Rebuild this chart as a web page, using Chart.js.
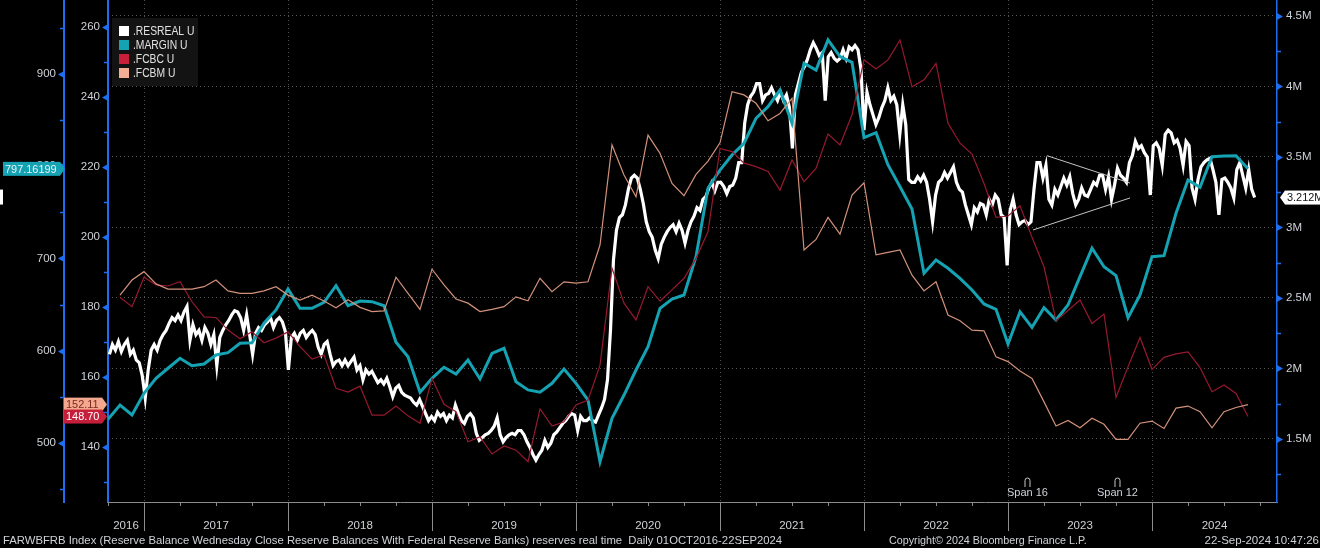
<!DOCTYPE html>
<html>
<head>
<meta charset="utf-8">
<script src="https://cdn.jsdelivr.net/npm/chart.js@4.4.1/dist/chart.umd.min.js"></script>
<style>
  html, body { margin: 0; padding: 0; background: #000; }
  #wrap { width: 1320px; height: 548px; }
</style>
</head>
<body>
<div id="wrap"><canvas id="grafico" width="1320" height="548"></canvas></div>
<script>
// rango del eje x en años decimales (01OCT2016 - 22SEP2024 + margen)
const inicioEje = 2016.75;
const finEje = 2024.868;
const etiquetasAnios = ['2016', '2017', '2018', '2019', '2020', '2021', '2022', '2023', '2024'];

// series mensuales, oct 2016 - sep 2024
const margin = [
  525.7, 541.2, 530.4, 553.9, 570.1, 581.0, 591.8, 583.8, 585.6, 595.4, 597.9, 608.1,
  608.7, 629.8, 644.2, 666.9, 646.0, 646.0, 652.5, 670.5, 649.0, 653.9, 653.2, 648.8,
  609.2, 593.5, 555.0, 570.1, 582.1, 574.8, 590.0, 569.4, 597.2, 602.7, 566.4, 557.5,
  555.0, 564.7, 580.2, 564.7, 546.6, 479.7, 526.8, 552.0, 579.1, 604.4, 646.0, 656.1,
  660.4, 702.0, 776.1, 795.9, 812.2, 824.9, 852.0, 864.6, 882.7, 846.6, 911.6, 904.3,
  936.9, 918.8, 912.7, 831.0, 836.4, 801.4, 777.8, 753.7, 684.0, 698.4, 689.4, 678.5,
  665.9, 650.7, 644.9, 607.3, 642.3, 625.4, 646.7, 633.3, 649.6, 680.3, 711.1, 691.1,
  681.4, 635.8, 660.4, 702.0, 703.1, 749.0, 785.1, 777.2, 810.4, 811.0, 811.4, 797.16199
];
const fcbc = [
  null, 182.7, 180.1, 188.5, 186.3, 186.0, 187.2, 181.5, 177.2, 177.0, 173.4, 170.9,
  172.9, 169.8, 171.1, 172.9, 168.7, 165.1, 166.3, 156.8, 155.7, 157.4, 149.1, 149.1,
  151.7, 148.9, 146.8, 159.6, 152.2, 150.1, 141.5, 142.9, 138.0, 140.3, 139.1, 135.8,
  150.9, 146.0, 147.2, 152.0, 153.4, 163.4, 191.1, 181.1, 176.3, 185.8, 181.7, 184.9,
  188.2, 193.9, 201.5, 225.3, 224.4, 221.1, 220.1, 218.7, 213.4, 222.0, 215.8, 219.6,
  229.4, 226.3, 234.9, 250.6, 248.0, 250.6, 256.3, 242.9, 244.9, 249.6, 232.5, 226.8,
  223.7, 215.3, 205.6, 206.0, 208.9, 199.9, 191.5, 176.1, 179.0, 182.0, 175.3, 178.0,
  154.2, 162.9, 171.3, 162.2, 165.6, 166.6, 167.2, 162.7, 155.8, 157.7, 155.3, 148.70
];
const fcbm = [
  null, 183.4, 187.7, 190.1, 186.6, 185.1, 185.1, 185.1, 185.8, 187.7, 184.6, 183.9,
  183.9, 184.6, 185.8, 183.4, 182.0, 183.4, 181.7, 179.8, 182.1, 179.9, 178.7, 178.9,
  188.5, 183.9, 179.3, 190.8, 186.3, 182.3, 181.1, 178.7, 179.3, 180.1, 182.9, 181.8,
  188.2, 184.4, 187.2, 186.8, 187.2, 197.7, 226.3, 217.7, 211.5, 229.1, 223.9, 215.3,
  211.8, 217.9, 221.7, 226.9, 241.5, 240.6, 238.2, 233.2, 235.3, 239.6, 196.3, 199.3,
  205.6, 200.8, 212.0, 215.5, 194.9, 195.6, 196.3, 189.1, 184.6, 187.2, 177.7, 176.1,
  173.4, 173.2, 165.8, 164.4, 161.7, 159.6, 152.9, 146.0, 147.6, 145.5, 148.2, 146.5,
  142.2, 142.2, 146.8, 147.4, 145.3, 151.1, 151.7, 150.1, 145.5, 150.1, 151.3, 152.11
];

// reservas semanales (millones), 05OCT2016 - 18SEP2024
const inicioResreal = 2016.76;
const finResreal = 2024.713;
const resreal = [
  2.10, 2.17, 2.13, 2.19, 2.12, 2.17, 2.20, 2.10, 2.13, 2.06,
  2.04, 1.95, 1.79, 1.99, 2.13, 2.17, 2.13, 2.20, 2.24, 2.27,
  2.32, 2.36, 2.34, 2.38, 2.34, 2.40, 2.44, 2.20, 2.31, 2.24,
  2.27, 2.20, 2.29, 2.25, 2.17, 2.24, 2.02, 2.22, 2.27, 2.31,
  2.34, 2.38, 2.41, 2.40, 2.36, 2.27, 2.38, 2.24, 2.10, 2.25,
  2.29, 2.27, 2.31, 2.33, 2.36, 2.29, 2.34, 2.36, 2.33, 2.26,
  1.99, 2.22, 2.25, 2.20, 2.25, 2.27, 2.22, 2.25, 2.27, 2.24,
  2.15, 2.10, 2.17, 2.19, 2.10, 2.02, 2.05, 2.06, 2.02, 2.06,
  2.02, 2.05, 2.08, 1.99, 2.02, 1.92, 1.99, 1.96, 1.98, 1.94,
  1.90, 1.92, 1.89, 1.93, 1.87, 1.80, 1.86, 1.88, 1.83, 1.81,
  1.80, 1.79, 1.76, 1.74, 1.78, 1.73, 1.68, 1.63, 1.66, 1.63,
  1.69, 1.66, 1.68, 1.63, 1.67, 1.65, 1.74, 1.68, 1.63, 1.61,
  1.66, 1.68, 1.65, 1.54, 1.49, 1.51, 1.53, 1.54, 1.56, 1.59,
  1.65, 1.53, 1.48, 1.51, 1.53, 1.54, 1.53, 1.56, 1.56, 1.53,
  1.48, 1.44, 1.39, 1.35, 1.39, 1.42, 1.49, 1.44, 1.47, 1.53,
  1.55, 1.58, 1.61, 1.63, 1.66, 1.68, 1.67, 1.56, 1.66, 1.63,
  1.63, 1.65, 1.63, 1.62, 1.67, 1.72, 1.78, 1.92, 2.27, 2.77,
  2.98, 3.07, 3.09, 3.16, 3.27, 3.35, 3.37, 3.35, 3.27, 3.17,
  3.04, 2.97, 2.93, 2.84, 2.78, 2.88, 2.93, 2.97, 3.00, 3.02,
  2.97, 3.03, 2.98, 2.89, 2.98, 3.04, 3.08, 3.14, 3.12, 3.20,
  3.22, 3.28, 3.32, 3.26, 3.32, 3.32, 3.29, 3.24, 3.29, 3.30,
  3.35, 3.46, 3.46, 3.74, 3.87, 3.93, 3.96, 4.02, 4.02, 3.90,
  3.94, 3.95, 3.99, 3.94, 3.90, 3.96, 3.90, 3.94, 3.85, 3.56,
  3.94, 4.02, 4.10, 4.14, 4.19, 4.26, 4.31, 4.27, 4.22, 4.24,
  3.90, 4.21, 4.24, 4.20, 4.18, 4.20, 4.26, 4.20, 4.28, 4.26,
  4.29, 4.26, 4.12, 3.69, 3.96, 3.87, 3.80, 3.73, 3.78, 3.85,
  3.90, 3.99, 3.90, 3.93, 3.87, 3.66, 3.87, 3.73, 3.34, 3.32,
  3.32, 3.36, 3.33, 3.37, 3.32, 3.20, 3.04, 3.23, 3.32, 3.34,
  3.39, 3.35, 3.39, 3.43, 3.32, 3.27, 3.25, 3.16, 3.09, 3.02,
  3.14, 3.11, 3.17, 3.16, 3.09, 3.20, 3.16, 3.23, 3.20, 3.09,
  3.07, 2.73, 3.12, 3.20, 3.09, 3.02, 3.04, 3.05, 3.02, 3.04,
  3.27, 3.46, 3.46, 3.35, 3.44, 3.20, 3.16, 3.27, 3.23, 3.29,
  3.35, 3.30, 3.36, 3.24, 3.16, 3.20, 3.28, 3.23, 3.22, 3.27,
  3.32, 3.30, 3.37, 3.37, 3.27, 3.36, 3.20, 3.30, 3.42, 3.37,
  3.35, 3.32, 3.46, 3.51, 3.61, 3.56, 3.58, 3.53, 3.50, 3.23,
  3.58, 3.60, 3.56, 3.44, 3.66, 3.69, 3.67, 3.60, 3.62, 3.56,
  3.44, 3.61, 3.58, 3.28, 3.20, 3.34, 3.43, 3.46, 3.48, 3.49,
  3.41, 3.32, 3.09, 3.34, 3.35, 3.32, 3.28, 3.21, 3.41, 3.46,
  3.37, 3.28, 3.41, 3.27, 3.212
];

// anotaciones: lineas de tendencia [fecha, valor en M] y marcas span
const tendenciaSup = [[2023.271, 3.509], [2023.847, 3.315]];
const tendenciaInf = [[2023.174, 2.982], [2023.847, 3.209]];
const fechasSpan = [2023.132, 2023.757];
const etiquetasSpan = ['Span 16', 'Span 12'];

const textoPie = 'FARWBFRB Index (Reserve Balance Wednesday Close Reserve Balances With Federal Reserve Banks) reserves real time  Daily 01OCT2016-22SEP2024';
const textoCopyright = 'Copyright\u00a9 2024 Bloomberg Finance L.P.';
const textoFecha = '22-Sep-2024 10:47:26';

const azul = '#1e6ef0';
const grisTexto = '#cfd2d6';
const fuente = '"Liberation Sans", Arial, sans-serif';

function esMayor(v, paso) {
  return Math.abs(v / paso - Math.round(v / paso)) < 1e-6;
}

//pasa los arrays mensuales a puntos {x,y}
function mensual(serie) {
  return serie.map((v, k) => ({ x: inicioEje + k / 12, y: v })).filter(p => p.y !== null);
}

function semanal(serie) {
  const paso = (finResreal - inicioResreal) / (serie.length - 1);
  return serie.map((v, i) => ({ x: inicioResreal + i * paso, y: v }));
}

//ticks del eje x: trimestres + mitad de cada año para la etiqueta
function ticksX() {
  const t = [];
  for (let q = inicioEje; q <= finEje; q += 0.25) t.push({ value: q });
  etiquetasAnios.forEach((a) => {
    const desde = Math.max(Number(a), inicioEje);
    const hasta = Math.min(Number(a) + 1, finEje);
    t.push({ value: (desde + hasta) / 2, etiqueta: a });
  });
  return t.sort((a, b) => a.value - b.value);
}

function ultimo(serie) {
  return serie[serie.length - 1];
}

//texto un poco angosto como el de bloomberg
function textoAngosto(ctx, texto, x, y, escala) {
  ctx.save();
  ctx.translate(x, y);
  ctx.scale(escala, 1);
  ctx.fillText(texto, 0, 0);
  ctx.restore();
}

function cajaValor(ctx, texto, punta, y, ancho, fondo, colorTexto, lado) {
  // lado -1: caja a la izquierda apuntando a la derecha, 1: al reves
  const h = 14;
  const borde = punta + lado * 5;
  const x0 = lado < 0 ? borde - ancho : borde;
  ctx.fillStyle = fondo;
  ctx.fillRect(x0, y - h / 2, ancho, h);
  ctx.beginPath();
  ctx.moveTo(borde, y - h / 2);
  ctx.lineTo(punta, y);
  ctx.lineTo(borde, y + h / 2);
  ctx.closePath();
  ctx.fill();
  ctx.fillStyle = colorTexto;
  ctx.textAlign = 'left';
  ctx.textBaseline = 'middle';
  textoAngosto(ctx, texto, x0 + 2, y + 0.5, 0.95);
}

function marcasEje(ctx, escala, paso, lado) {
  const x0 = lado < 0 ? escala.right : escala.left;
  ctx.fillStyle = azul;
  ctx.strokeStyle = azul;
  ctx.lineWidth = 1.5;
  escala.ticks.forEach((t) => {
    const y = Math.round(escala.getPixelForValue(t.value)) + 0.5;
    if (esMayor(t.value, paso)) {
      ctx.beginPath();
      ctx.moveTo(x0, y - 3.5);
      ctx.lineTo(x0 + lado * 6, y);
      ctx.lineTo(x0, y + 3.5);
      ctx.closePath();
      ctx.fill();
    } else {
      ctx.beginPath();
      ctx.moveTo(x0, y);
      ctx.lineTo(x0 + lado * 4, y);
      ctx.stroke();
    }
  });
}

const decoracion = {
  id: 'decoracion',
  afterDatasetsDraw(chart) {
    const { ctx } = chart;
    const { x, yR } = chart.scales;
    ctx.save();
    ctx.strokeStyle = '#c4c4c4';
    ctx.lineWidth = 1;
    [tendenciaSup, tendenciaInf].forEach((linea) => {
      ctx.beginPath();
      linea.forEach(([f, v], i) => {
        const px = x.getPixelForValue(f);
        const py = yR.getPixelForValue(v);
        if (i) ctx.lineTo(px, py); else ctx.moveTo(px, py);
      });
      ctx.stroke();
    });
    ctx.restore();
  },
  afterDraw(chart) {
    const { ctx, chartArea } = chart;
    const { x, yL, yM, yR } = chart.scales;
    ctx.save();

    // ticks del eje x
    ctx.strokeStyle = '#8c8c8c';
    ctx.lineWidth = 1;
    x.ticks.forEach((t) => {
      if (t.etiqueta) return;
      const px = Math.round(x.getPixelForValue(t.value)) + 0.5;
      const largo = Number.isInteger(t.value) ? 29 : 4;
      ctx.beginPath();
      ctx.moveTo(px, chartArea.bottom);
      ctx.lineTo(px, chartArea.bottom + largo);
      ctx.stroke();
    });

    marcasEje(ctx, yM, 100, -1);
    marcasEje(ctx, yL, 20, -1);
    marcasEje(ctx, yR, 0.5, 1);

    // span
    ctx.strokeStyle = '#c8c8c8';
    ctx.lineWidth = 1;
    ctx.fillStyle = grisTexto;
    ctx.font = '11px ' + fuente;
    ctx.textAlign = 'center';
    ctx.textBaseline = 'middle';
    fechasSpan.forEach((f, i) => {
      const px = Math.round(x.getPixelForValue(f)) + 0.5;
      ctx.beginPath();
      ctx.moveTo(px - 2.5, 487);
      ctx.lineTo(px - 2.5, 480.5);
      ctx.arc(px, 480.5, 2.5, Math.PI, 0);
      ctx.lineTo(px + 2.5, 487);
      ctx.stroke();
      ctx.fillText(etiquetasSpan[i], px, 492.5);
    });

    // leyenda
    ctx.fillStyle = '#131313';
    ctx.fillRect(112, 18, 86, 68);
    ctx.font = '12px ' + fuente;
    ctx.textAlign = 'left';
    chart.data.datasets.forEach((ds, i) => {
      const y = 31 + i * 14;
      ctx.fillStyle = ds.colorMarca;
      ctx.fillRect(119, y - 5, 10, 10);
      ctx.fillStyle = '#e2e2e2';
      textoAngosto(ctx, ds.label, 133, y + 0.5, 0.86);
    });

    // ultimos valores
    ctx.font = '11.5px ' + fuente;
    cajaValor(ctx, String(ultimo(margin)), yM.right + 1, yM.getPixelForValue(ultimo(margin)), 57, '#15a3b3', '#eaf6f8', -1);
    cajaValor(ctx, ultimo(fcbm).toFixed(2), yL.right - 1, yL.getPixelForValue(ultimo(fcbm)), 38, '#f4a88e', '#7a2a1c', -1);
    cajaValor(ctx, ultimo(fcbc).toFixed(2), yL.right - 1, yL.getPixelForValue(ultimo(fcbc)), 38, '#c41e3a', '#ffffff', -1);
    const yRes = yR.getPixelForValue(ultimo(resreal));
    cajaValor(ctx, ultimo(resreal) + 'M', yR.left + 3, yRes, 40, '#ffffff', '#111111', 1);
    ctx.fillStyle = '#ffffff';
    ctx.fillRect(0, yRes - 8, 3, 15);

    // pie
    ctx.fillStyle = grisTexto;
    ctx.font = '11.5px ' + fuente;
    ctx.textBaseline = 'middle';
    ctx.textAlign = 'left';
    textoAngosto(ctx, textoPie, 3, 541, 0.982);
    textoAngosto(ctx, textoCopyright, 889, 541, 0.935);
    ctx.textAlign = 'right';
    ctx.fillText(textoFecha, 1319, 541);
    ctx.restore();
  }
};

function crearGrafico() {
  const canvasGrafico = document.getElementById('grafico');
  const fuenteTicks = { family: fuente, size: 11.5 };
  const sinColor = 'rgba(0,0,0,0)';

  new Chart(canvasGrafico, {
    type: 'line',
    data: {
      datasets: [
        { label: '.RESREAL U', data: semanal(resreal), borderColor: '#ffffff', colorMarca: '#ffffff', borderWidth: 3.2, yAxisID: 'yR', order: 3 },
        { label: '.MARGIN U', data: mensual(margin), borderColor: '#15a3b3', colorMarca: '#15a3b3', borderWidth: 3, yAxisID: 'yM', order: 2 },
        { label: '.FCBC U', data: mensual(fcbc), borderColor: '#96192f', colorMarca: '#c8203a', borderWidth: 1.2, yAxisID: 'yL', order: 1 },
        { label: '.FCBM U', data: mensual(fcbm), borderColor: '#d2917a', colorMarca: '#f5ad94', borderWidth: 1.2, yAxisID: 'yL', order: 0 }
      ]
    },
    options: {
      responsive: false,
      animation: false,
      devicePixelRatio: 1,
      layout: { padding: 0 },
      elements: { point: { radius: 0 }, line: { tension: 0, borderJoinStyle: 'miter' } },
      plugins: { legend: { display: false }, tooltip: { enabled: false } },
      scales: {
        x: {
          type: 'linear',
          min: inicioEje,
          max: finEje,
          afterBuildTicks: (s) => { s.ticks = ticksX(); },
          afterFit: (s) => { s.height = 46; s.paddingLeft = 0; s.paddingRight = 0; },
          grid: { drawTicks: false, color: (c) => (c.tick && Number.isInteger(c.tick.value) ? '#4f4f4f' : sinColor) },
          border: { color: '#8c8c8c', dash: [1, 3] },
          ticks: {
            autoSkip: false, maxRotation: 0, padding: 17, color: grisTexto, font: fuenteTicks,
            callback: (v, i, ticks) => ticks[i].etiqueta || ''
          }
        },
        yR: {
          position: 'right', weight: 0, min: 1.053, max: 4.613,
          afterFit: (s) => { s.width = 43; s.paddingTop = 0; s.paddingBottom = 0; },
          grid: { drawTicks: false, color: (c) => (c.tick && esMayor(c.tick.value, 0.5) ? '#5a5a5a' : sinColor) },
          border: { color: azul, width: 1.5, dash: [1, 3] },
          ticks: {
            stepSize: 0.25, includeBounds: false, autoSkip: false, padding: 9, color: grisTexto, font: fuenteTicks,
            callback: (v) => (esMayor(v, 0.5) ? (+v.toFixed(2)) + 'M' : '')
          }
        },
        yL: {
          position: 'left', weight: 0, min: 124.29, max: 267.71,
          afterFit: (s) => { s.width = 44; s.paddingTop = 0; s.paddingBottom = 0; },
          grid: { display: false, drawTicks: false },
          border: { color: azul, width: 2 },
          ticks: {
            stepSize: 10, includeBounds: false, autoSkip: false, padding: 8, color: grisTexto, font: fuenteTicks,
            callback: (v) => (esMayor(v, 20) ? String(Math.round(v)) : '')
          }
        },
        yM: {
          position: 'left', weight: 1, min: 436.04, max: 980.2,
          afterFit: (s) => { s.width = 64; s.paddingTop = 0; s.paddingBottom = 0; },
          grid: { display: false, drawTicks: false },
          border: { color: azul, width: 2 },
          ticks: {
            stepSize: 50, includeBounds: false, autoSkip: false, padding: 8, color: grisTexto, font: fuenteTicks,
            callback: (v) => (esMayor(v, 100) ? String(Math.round(v)) : '')
          }
        }
      }
    },
    plugins: [decoracion]
  });
}

crearGrafico();
</script>
</body>
</html>
